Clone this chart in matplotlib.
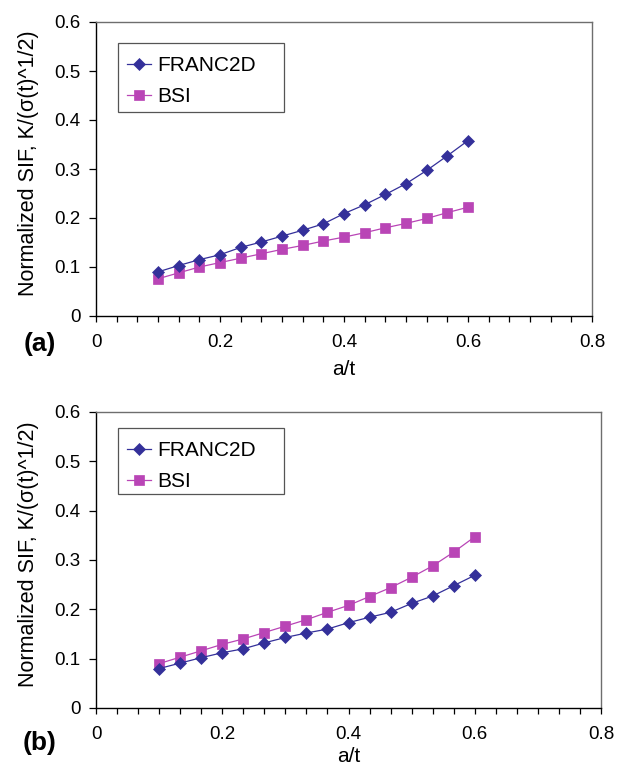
import numpy as np
import matplotlib
matplotlib.use("Agg")
import matplotlib.pyplot as plt
from matplotlib.ticker import MultipleLocator
from matplotlib.patches import Rectangle

plt.rcParams['font.family'] = ['Liberation Sans', 'DejaVu Sans']

a_over_t = [0.1, 0.1333, 0.1667, 0.2, 0.2333, 0.2667, 0.3, 0.3333,
            0.3667, 0.4, 0.4333, 0.4667, 0.5, 0.5333, 0.5667, 0.6]

franc2d_a = [0.090, 0.103, 0.115, 0.125, 0.140, 0.151, 0.163, 0.175,
             0.188, 0.209, 0.227, 0.248, 0.270, 0.297, 0.327, 0.358]
bsi_a = [0.076, 0.088, 0.100, 0.109, 0.118, 0.127, 0.136, 0.144,
         0.153, 0.161, 0.170, 0.180, 0.189, 0.199, 0.211, 0.222]

franc2d_b = [0.080, 0.091, 0.102, 0.112, 0.120, 0.132, 0.143, 0.152,
             0.160, 0.173, 0.184, 0.194, 0.212, 0.227, 0.248, 0.269]
bsi_b = [0.090, 0.103, 0.116, 0.129, 0.140, 0.153, 0.166, 0.179,
         0.194, 0.208, 0.226, 0.244, 0.265, 0.288, 0.316, 0.347]

x_ticks = [0, 0.2, 0.4, 0.6, 0.8]
x_ticklabels = ["0", "0.2", "0.4", "0.6", "0.8"]
y_ticks = [0, 0.1, 0.2, 0.3, 0.4, 0.5, 0.6]
y_ticklabels = ["0", "0.1", "0.2", "0.3", "0.4", "0.5", "0.6"]

series_names = ["FRANC2D", "BSI"]
panel_labels = ["(a)", "(b)"]
ylabel = "Normalized SIF, K/(σ(t)^1/2)"
xlabel = "a/t"

C1 = "#34309a"
C2 = "#b945b6"

W, H = 630, 768
fig = plt.figure(figsize=(W / 100, H / 100), dpi=100)


def px_axes(l, r, t, b):
    return fig.add_axes([l / W, 1 - b / H, (r - l) / W, (b - t) / H])


axes_px = [(96, 592, 22, 316), (96, 601, 412, 708)]
data = [(franc2d_a, bsi_a), (franc2d_b, bsi_b)]
legend_box_px = [(118, 284, 43, 112), (118, 284, 428, 494)]
panel_dy = [28, 35]
xlabel_dy = [54, 49]

for i, (box, (f, b)) in enumerate(zip(axes_px, data)):
    ax = px_axes(*box)
    ax.plot(a_over_t, f, color=C1, lw=0.9, marker='D', ms=6.3,
            mec=C1, mfc=C1, mew=0.5, label=series_names[0], zorder=3)
    ax.plot(a_over_t, b, color=C2, lw=0.9, marker='s', ms=7.8,
            mec=C2, mfc=C2, mew=0.5, label=series_names[1], zorder=2)
    ax.set_xlim(0, 0.8)
    ax.set_ylim(0, 0.6)
    ax.set_xticks(x_ticks)
    ax.set_xticklabels(x_ticklabels)
    ax.set_yticks(y_ticks)
    ax.set_yticklabels(y_ticklabels)
    ax.xaxis.set_minor_locator(MultipleLocator(0.8 / 24))
    ax.tick_params(axis='x', which='both', direction='out', length=4,
                   width=0.9, labelsize=13.5, pad=9)
    ax.tick_params(axis='y', which='major', direction='out', length=5,
                   width=0.9, labelsize=13.5, pad=6)
    for s in ['left', 'bottom']:
        ax.spines[s].set_color('black')
        ax.spines[s].set_linewidth(1.0)
    for s in ['top', 'right']:
        ax.spines[s].set_color('#6e6e6e')
        ax.spines[s].set_linewidth(1.0)
    ax.set_ylabel(ylabel, fontsize=15.5, labelpad=9)
    ax.yaxis.set_label_coords(-0.115 * 496 / (box[1] - box[0]), 0.52)

    l, r, t, bt = legend_box_px[i]
    ax.add_patch(Rectangle((l / W, 1 - bt / H), (r - l) / W, (bt - t) / H,
                           transform=fig.transFigure, fill=True,
                           facecolor='white', edgecolor='#555555',
                           linewidth=0.9, zorder=5, clip_on=False))
    leg = ax.legend(loc='upper left',
                    bbox_to_anchor=((l + 1 - box[0]) / (box[1] - box[0]),
                                    1 - (t + 5 - box[2]) / (box[3] - box[2])),
                    frameon=False, fontsize=15,
                    handlelength=1.15, handletextpad=0.3, borderpad=0.4,
                    labelspacing=0.55, borderaxespad=0)
    leg.set_zorder(6)
    fig.text(40 / W, 1 - (box[3] + panel_dy[i]) / H, panel_labels[i],
             fontsize=19, fontweight='bold', ha='center', va='center')
    fig.text(((box[0] + box[1]) / 2) / W, 1 - (box[3] + xlabel_dy[i]) / H,
             xlabel, fontsize=15, ha='center', va='center')

fig.savefig("out.png", dpi=100)
